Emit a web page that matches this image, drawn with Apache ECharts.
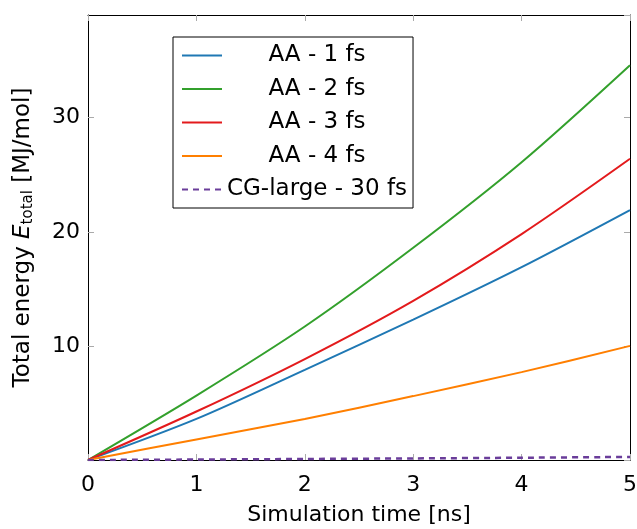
<!DOCTYPE html>
<html>
<head>
<meta charset="utf-8">
<script src="https://cdn.jsdelivr.net/npm/echarts@6/dist/echarts.min.js"></script>
<style>
  html, body { margin: 0; padding: 0; background: #fff; }
  #myChart { width: 637px; height: 529px; }
</style>
</head>
<body>
<div id="myChart"></div>
<script>
// time [ns]
var timeNs = [0, 1, 2, 3, 4, 5];
var aa1 = [0, 3.6, 7.9, 12.3, 16.9, 21.9];
var aa2 = [0, 5.65, 11.7, 18.6, 26.1, 34.6];
var aa3 = [0, 4.25, 8.85, 13.95, 19.8, 26.4];
var aa4 = [0, 1.8, 3.6, 5.6, 7.7, 10.0];
var cg30 = [0, 0.04, 0.09, 0.14, 0.2, 0.27];
var names = ["AA - 1 fs", "AA - 2 fs", "AA - 3 fs", "AA - 4 fs", "CG-large - 30 fs"];
var colors = ["#1f78b4", "#33a02c", "#e31a1c", "#ff7f00", "#6a3d9a"];

function pairs(ys) {
  return timeNs.map(function (t, i) { return [t, ys[i]]; });
}

var fontFam = "'DejaVu Sans', sans-serif";
var myChart = echarts.init(document.getElementById("myChart"));

function line(name, ys, color, dashed) {
  return {
    name: name,
    type: "line",
    data: pairs(ys),
    smooth: 0.3,
    symbol: "none",
    // the CG series sits on the mirrored axes so they get drawn too
    xAxisIndex: dashed ? 1 : 0,
    yAxisIndex: dashed ? 1 : 0,
    lineStyle: { color: color, width: dashed ? 2.5 : 2, type: dashed ? [6, 5] : "solid" },
    itemStyle: { color: color },
    z: dashed ? 5 : 3
  };
}

var tickStyle = { show: true, inside: true, length: 6, lineStyle: { color: "#aaa", width: 1 } };
var lineBlack = { show: true, onZero: false, lineStyle: { color: "#000", width: 1 } };

var option = {
  animation: false,
  grid: { left: 88, right: 7, top: 15, bottom: 69, outerBoundsMode: "none", containLabel: false },
  legend: {
    orient: "vertical",
    left: 173,
    top: 37,
    itemWidth: 40,
    itemHeight: 10,
    itemGap: 10.5,
    padding: [7, 6, 7, 8],
    borderColor: "#000",
    borderWidth: 1,
    backgroundColor: "#fff",
    itemStyle: { opacity: 0 },
    data: names,
    formatter: function (n) { return "{a|" + n + "}"; },
    textStyle: {
      rich: {
        a: { width: 180, align: "center", fontSize: 23, fontFamily: fontFam, color: "#000", lineHeight: 22 }
      }
    }
  },
  xAxis: [
    {
      type: "value",
      min: 0, max: 5, interval: 1,
      name: "Simulation time [ns]",
      nameLocation: "middle",
      nameGap: 44,
      nameTextStyle: { fontSize: 22, fontFamily: fontFam, color: "#000" },
      axisLine: lineBlack,
      axisTick: tickStyle,
      axisLabel: { fontSize: 22, fontFamily: fontFam, color: "#000", margin: 14 },
      splitLine: { show: false }
    },
    {
      type: "value", position: "top",
      min: 0, max: 5, interval: 1,
      axisLine: lineBlack,
      axisTick: tickStyle,
      axisLabel: { show: false },
      splitLine: { show: false }
    }
  ],
  yAxis: [
    {
      type: "value",
      min: 0, max: 39, interval: 10,
      name: "{n|Total energy }{e|E}{s|total}{n| [MJ/mol]}",
      nameLocation: "middle",
      nameRotate: 90,
      nameGap: 52,
      nameTextStyle: {
        rich: {
          n: { fontSize: 23, fontFamily: fontFam, color: "#000" },
          e: { fontSize: 23, fontFamily: fontFam, color: "#000", fontStyle: "italic" },
          s: { fontSize: 15, fontFamily: fontFam, color: "#000", verticalAlign: "bottom", padding: [10, 0, 0, 0] }
        }
      },
      axisLine: lineBlack,
      axisTick: tickStyle,
      axisLabel: { fontSize: 22, fontFamily: fontFam, color: "#000", margin: 8, showMinLabel: false, showMaxLabel: false },
      splitLine: { show: false }
    },
    {
      type: "value", position: "right",
      min: 0, max: 39, interval: 10,
      axisLine: lineBlack,
      axisTick: tickStyle,
      axisLabel: { show: false },
      splitLine: { show: false }
    }
  ],
  series: [
    line(names[0], aa1, colors[0], false),
    line(names[1], aa2, colors[1], false),
    line(names[2], aa3, colors[2], false),
    line(names[3], aa4, colors[3], false),
    line(names[4], cg30, colors[4], true)
  ]
};
myChart.setOption(option);
</script>
</body>
</html>
